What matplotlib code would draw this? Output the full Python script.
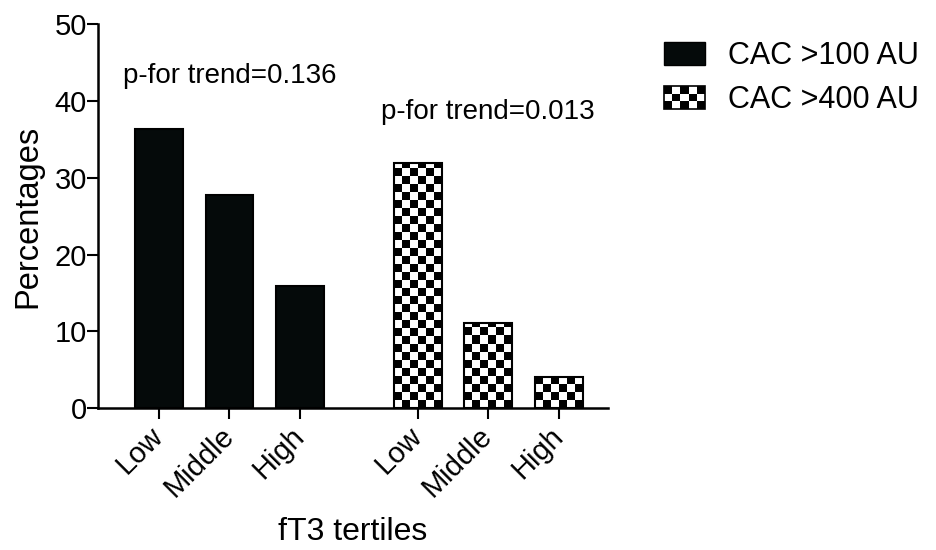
import numpy as np
import matplotlib.pyplot as plt
from matplotlib.patches import Rectangle, Patch
from matplotlib.legend_handler import HandlerBase

plt.rcParams['font.family'] = ['Liberation Sans', 'DejaVu Sans']

# ---- data ----
tertiles = ["Low", "Middle", "High"]
cac100 = [36.4, 27.8, 15.9]
cac400 = [31.9, 11.1, 4.0]
p_trend = ["p-for trend=0.136", "p-for trend=0.013"]
series_names = ["CAC >100 AU", "CAC >400 AU"]

pos100 = np.arange(3)
pos400 = np.arange(3) + 3.67
bar_w = 0.68


class CheckerHandler(HandlerBase):
    def create_artists(self, legend, orig_handle, xdescent, ydescent,
                       width, height, fontsize, trans):
        nx, ny = 5, 3
        w, h = width / nx, height / ny
        arts = [Rectangle((-xdescent, -ydescent), width, height, fc='white',
                          ec='none', transform=trans)]
        for i in range(nx):
            for j in range(ny):
                if (i + j) % 2 == 0:
                    arts.append(Rectangle((-xdescent + i * w, -ydescent + j * h), w, h,
                                          fc='black', ec='none', transform=trans))
        arts.append(Rectangle((-xdescent, -ydescent), width, height, fc='none',
                              ec='black', lw=1.2, transform=trans))
        return arts


fig = plt.figure(figsize=(9.36, 5.5), dpi=100)
ax = fig.add_axes([0.1047, 0.258, 0.545, 0.698])

ax.bar(pos100, cac100, width=bar_w, color='#050a0a', edgecolor='black', linewidth=1.5)
bars = ax.bar(pos400, cac400, width=bar_w, facecolor='none', edgecolor='black',
              linewidth=1.5, zorder=3)

# checker fill inside each CAC>400 bar
sq_y = 1.04
for b in bars:
    x0, y0 = b.get_x(), b.get_y()
    w, h = b.get_width(), b.get_height()
    ny = max(1, int(np.ceil(h / sq_y)))
    nx = 6
    img = 1.0 - (np.add.outer(np.arange(ny), np.arange(nx)) % 2).astype(float)
    im = ax.imshow(img, cmap='gray', vmin=0, vmax=1, interpolation='nearest',
                   extent=[x0, x0 + w, y0, y0 + ny * sq_y], origin='lower',
                   aspect='auto', zorder=2)
    im.set_clip_path(b)
ax.set_xlim(-0.865, 6.37)
ax.set_ylim(0, 50)

ax.text(pos100[1], 43.2, p_trend[0], ha='center', va='center', fontsize=20)
ax.text(pos400[1], 38.5, p_trend[1], ha='center', va='center', fontsize=20)

ax.set_xticks(list(pos100) + list(pos400))
ax.set_xticklabels(tertiles + tertiles, rotation=45, ha='right', va='center',
                   rotation_mode='anchor', fontsize=21)
ax.set_yticks([0, 10, 20, 30, 40, 50])
ax.tick_params(axis='y', labelsize=21, width=1.5, length=8, direction='out', pad=0)
ax.tick_params(axis='x', width=1.5, length=8, direction='out', pad=9)

for s in ['top', 'right']:
    ax.spines[s].set_visible(False)
for s in ['left', 'bottom']:
    ax.spines[s].set_linewidth(1.8)

ax.set_ylabel("Percentages", fontsize=23.5, labelpad=8)
ax.set_xlabel("fT3 tertiles", fontsize=23, va='bottom')
ax.xaxis.set_label_coords(0.5, -0.362)

h1 = Patch(facecolor='#050a0a', edgecolor='black')
h2 = Patch(facecolor='white', edgecolor='black')
fig.legend([h1, h2], series_names, loc='upper left', bbox_to_anchor=(0.68, 0.975),
           frameon=False, fontsize=22, handlelength=1.35, handleheight=0.75,
           handletextpad=0.75, labelspacing=0.45,
           handler_map={h2: CheckerHandler()})

fig.savefig("out.png", dpi=100)
